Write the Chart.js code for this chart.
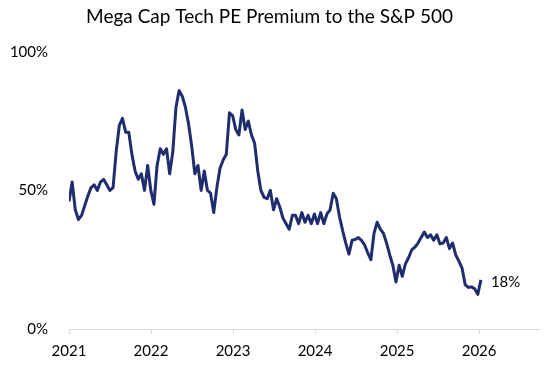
<!DOCTYPE html>
<html>
<head>
<meta charset="utf-8">
<script src="https://cdn.jsdelivr.net/npm/chart.js@4.4.1/dist/chart.umd.min.js"></script>
<style>
  html, body { margin: 0; padding: 0; background: #fff; }
  #wrap { width: 553px; height: 376px; position: relative; }
</style>
</head>
<body>
<div id="wrap"><canvas id="premiumChart"></canvas></div>
<script>
// Data block: biweekly readings starting the first week of 2021
const startDate = '2021-01-01';
const stepDays = 14;
const premiumValues = [
    46, 53, 43, 39.5, 41, 44.5, 48, 51, 52, 50,
    53, 54, 52, 50, 51, 64, 73.5, 76, 71, 71,
    63, 57, 54, 56, 50, 59, 50, 45, 59, 65,
    63, 65, 56, 64, 80, 86, 84, 80, 74, 66,
    56, 59, 50, 57, 50, 49, 42, 51, 58, 61,
    63, 78, 77, 72, 70, 79, 72, 75, 70, 67,
    57, 50, 47.5, 47, 50, 43, 47, 44, 40, 38,
    36, 41, 41, 38, 42, 38.5, 41, 38, 41.5, 38,
    42, 38, 41.5, 43, 49, 47, 40.5, 35.5, 31, 27,
    32, 32.3, 33, 32, 30.3, 27.5, 25, 34.5, 38.5, 36,
    34.5, 31, 26.8, 23, 17, 23, 19, 23.5, 25.7, 28.5,
    29.5, 31, 33, 35, 33, 34, 32, 34, 30.7, 31,
    33, 29, 31, 26.7, 24.5, 22, 16, 15, 15.2, 14.5,
    12.5, 17.7
];
const yearTicks = [2021, 2022, 2023, 2024, 2025, 2026];
const lastLabel = '18%';

// Turn the period index into a fractional year for the linear x axis
const start = new Date(startDate + 'T00:00:00Z');
const toYear = d => {
    const y = d.getUTCFullYear();
    const y0 = Date.UTC(y, 0, 1), y1 = Date.UTC(y + 1, 0, 1);
    return y + (d.getTime() - y0) / (y1 - y0);
};
const points = premiumValues.map((v, i) => ({
    x: toYear(new Date(start.getTime() + i * stepDays * 86400000)),
    y: v
}));

// End label plugin block
const endLabel = {
    id: 'endLabel',
    afterDatasetsDraw(chart) {
        const meta = chart.getDatasetMeta(0);
        const last = meta.data[meta.data.length - 1];
        const ctx = chart.ctx;
        ctx.save();
        ctx.font = '15px Lato';
        ctx.fillStyle = '#000';
        ctx.textAlign = 'left';
        ctx.textBaseline = 'middle';
        ctx.fillText(lastLabel, last.x + 10, last.y + 2);
        ctx.restore();
    }
};

// Config block
const premiumConfig = {
    type: 'line',
    data: {
        datasets: [{
            label: 'PE premium',
            data: points,
            borderColor: '#1f2d6e',
            borderWidth: 3,
            pointRadius: 0,
            tension: 0,
            borderJoinStyle: 'round',
            fill: false
        }]
    },
    options: {
        responsive: true,
        maintainAspectRatio: false,
        animation: false,
        layout: { padding: { left: 0, right: 14, top: 0, bottom: 0 } },
        plugins: {
            legend: { display: false },
            tooltip: { enabled: false },
            title: {
                display: true,
                text: 'Mega Cap Tech PE Premium to the S&P 500',
                color: '#000',
                font: { family: 'Lato', size: 19, weight: 'normal' },
                padding: { top: 5, bottom: 24 }
            }
        },
        scales: {
            x: {
                type: 'linear',
                min: 2021,
                max: 2026.73,
                afterBuildTicks: scale => {
                    scale.ticks = yearTicks.map(v => ({ value: v }));
                },
                afterFit: scale => { scale.height = 47; },
                ticks: {
                    color: '#000',
                    font: { family: 'Lato', size: 15 },
                    padding: 8,
                    maxRotation: 0,
                    callback: v => String(v)
                },
                grid: {
                    drawOnChartArea: false,
                    drawTicks: true,
                    tickLength: 5,
                    color: '#d9d9d9'
                },
                border: { color: '#d9d9d9', width: 1 }
            },
            y: {
                min: 0,
                max: 100,
                afterFit: scale => { scale.width = 69; },
                ticks: {
                    stepSize: 50,
                    color: '#000',
                    font: { family: 'Lato', size: 15 },
                    padding: 13,
                    callback: v => v + '%'
                },
                grid: { display: false },
                border: { display: false }
            }
        }
    },
    plugins: [endLabel]
};

// render block
const premiumChart = new Chart(document.getElementById('premiumChart'), premiumConfig);
</script>
</body>
</html>
